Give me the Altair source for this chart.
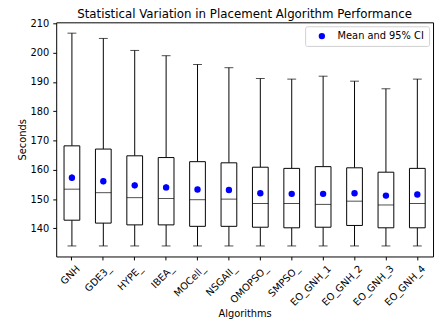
import altair as alt
import pandas as pd

algos = ["GNH", "GDE3_", "HYPE_", "IBEA_", "MOCell_", "NSGAII_", "OMOPSO_", "SMPSO_",
         "EO_GNH_1", "EO_GNH_2", "EO_GNH_3", "EO_GNH_4"]
whisk_low = [134.0, 134.0, 134.0, 134.0, 134.0, 134.0, 134.0, 134.0, 134.0, 134.0, 134.0, 134.0]
q1 = [142.8, 141.8, 141.2, 141.2, 140.7, 140.7, 140.4, 140.2, 140.4, 141.0, 140.2, 140.2]
median = [153.4, 152.2, 150.5, 150.2, 149.8, 150.0, 148.5, 148.5, 148.2, 149.3, 148.0, 148.5]
q3 = [168.2, 167.1, 164.8, 164.2, 162.8, 162.4, 160.9, 160.5, 161.1, 160.7, 159.2, 160.5]
whisk_high = [206.7, 204.9, 200.8, 199.0, 196.0, 194.9, 191.2, 191.0, 192.0, 190.3, 187.7, 191.0]
mean = [157.3, 156.1, 154.7, 154.0, 153.3, 153.1, 152.0, 151.8, 151.8, 152.0, 151.2, 151.6]
ci_half = [1.1, 1.0, 1.0, 1.0, 0.9, 0.9, 0.9, 0.9, 0.9, 0.9, 0.9, 0.9]
y_ticks = [140, 150, 160, 170, 180, 190, 200, 210]

df = pd.DataFrame({
    "algo": algos, "lo": whisk_low, "q1": q1, "med": median, "q3": q3, "hi": whisk_high,
    "mean": mean,
    "ci_lo": [m - c for m, c in zip(mean, ci_half)],
    "ci_hi": [m + c for m, c in zip(mean, ci_half)],
    "label": ["Mean and 95% CI"] * len(algos),
})

FONT = "DejaVu Sans"
H = 238

x = alt.X("algo:N", sort=algos, title="Algorithms",
          scale=alt.Scale(type="band", paddingInner=0, paddingOuter=0),
          axis=alt.Axis(labels=False, tickSize=3.5, titleY=53, titleBaseline="top"))
yscale = alt.Scale(domain=[130.4, 210.4], nice=False, zero=False)
yaxis = alt.Axis(values=y_ticks, tickSize=3.5, labelOverlap=False,
                 labelPadding=4, grid=False, titlePadding=3)


def Y(field):
    return alt.Y(field, scale=yscale, axis=yaxis, title="Seconds")


base = alt.Chart(df)

whisk_lo = base.mark_rule(color="black", strokeWidth=1).encode(
    x=x, y=Y("lo:Q"), y2="q1:Q")
whisk_up = base.mark_rule(color="black", strokeWidth=1).encode(
    x=x, y=Y("q3:Q"), y2="hi:Q")
cap_lo = base.mark_tick(color="black", size=9, thickness=1).encode(x=x, y=Y("lo:Q"))
cap_hi = base.mark_tick(color="black", size=9, thickness=1).encode(x=x, y=Y("hi:Q"))
box = base.mark_bar(size=16, fill="white", stroke="black", strokeWidth=1).encode(
    x=x, y=Y("q1:Q"), y2="q3:Q")
med = base.mark_tick(color="black", size=16, thickness=1).encode(x=x, y=Y("med:Q"))
err = base.mark_rule(color="blue", strokeWidth=1.5).encode(
    x=x, y=Y("ci_lo:Q"), y2="ci_hi:Q")
dots = base.mark_circle(size=42, opacity=1).encode(
    x=x, y=Y("mean:Q"),
    color=alt.Color("label:N", scale=alt.Scale(range=["blue"]),
                    legend=alt.Legend(title=None, orient="top-right", offset=4,
                                      fillColor="white", strokeColor="#d0d0d0",
                                      cornerRadius=2, padding=5, symbolType="circle",
                                      symbolSize=42, labelFontSize=10, labelFont=FONT,
                                      labelColor="black",
                                      labelOffset=11, symbolOffset=7)))
xlabels = base.mark_text(angle=315, align="right", baseline="top", dx=2.1, dy=2.1,
                         font=FONT, fontSize=10, color="black").encode(
    x=x, y=alt.value(H + 7.5), text="algo:N")

chart = alt.layer(whisk_lo, whisk_up, cap_lo, cap_hi, box, med, err, dots, xlabels).properties(
    width=383, height=H,
    autosize="none",
    padding={"left": 49, "top": 12, "right": 2, "bottom": 63},
    title=alt.Title("Statistical Variation in Placement Algorithm Performance",
                    fontSize=12, font=FONT, fontWeight="normal", offset=2, dy=4,
                    color="black"),
).configure_view(stroke="black", strokeWidth=1).configure_axis(
    domain=False, labelFont=FONT, titleFont=FONT, labelFontSize=10, titleFontSize=10,
    titleFontWeight="normal", labelColor="black", titleColor="black", tickColor="black",
)

chart.save("out.html", embed_options={"renderer": "svg", "actions": False})
